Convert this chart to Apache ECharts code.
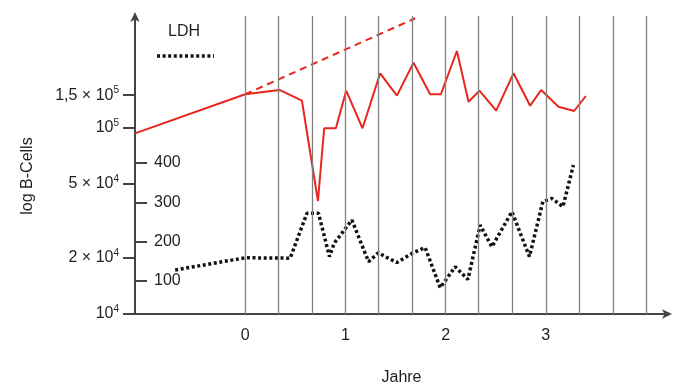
<!DOCTYPE html>
<html>
<head>
<meta charset="utf-8">
<script src="https://cdn.jsdelivr.net/npm/echarts@6/dist/echarts.min.js"></script>
<style>
  html, body { margin: 0; padding: 0; background: #fff; }
  #chart { width: 680px; height: 383px; }
</style>
</head>
<body>
<div id="chart"></div>
<script>
// B-cell counts (log axis), years relative to start of therapy
const bYears = [-1.1, 0, 0.342, 0.566, 0.726, 0.788, 0.905, 1.008, 1.171, 1.347, 1.514, 1.68, 1.846, 1.953, 2.113, 2.229, 2.338, 2.505, 2.678, 2.844, 2.954, 3.127, 3.283, 3.4];
const bValues = [93600, 151800, 160100, 140300, 40500, 99600, 99600, 158700, 99600, 196800, 149200, 224400, 151800, 151800, 259400, 138500, 158700, 123900, 196800, 131800, 160100, 130200, 123400, 148600];

// dashed extrapolation
const trendYears = [0, 1.697];
const trendValues = [151800, 388900];

// LDH (second scale)
const ldhYears = [-0.699, 0, 0.449, 0.616, 0.732, 0.841, 0.888, 1.065, 1.231, 1.33, 1.397, 1.514, 1.664, 1.796, 1.946, 2.096, 2.223, 2.345, 2.462, 2.662, 2.837, 2.971, 3.061, 3.171, 3.276];
const ldhValues = [128, 159, 158, 272, 272, 162, 196, 255, 149, 172, 162, 147, 170, 185, 83, 136, 104, 242, 187, 276, 162, 302, 310, 289, 395];

const gridYears = [0, 1/3, 2/3, 1, 4/3, 5/3, 2, 7/3, 8/3, 3, 10/3, 11/3, 4];
const yearTicks = [0, 1, 2, 3];
const bTicks = [10000, 20000, 50000, 100000, 150000];
const bTickLabels = {
  10000: '{b|10}{s|4}',
  20000: '{b|2 × 10}{s|4}',
  50000: '{b|5 × 10}{s|4}',
  100000: '{b|10}{s|5}',
  150000: '{b|1,5 × 10}{s|5}'
};
const ldhTicks = [100, 200, 300, 400];

const font = 'Liberation Sans, Arial, sans-serif';
const red = '#e8261d';
const txt = '#1e1e1e';

const chart = echarts.init(document.getElementById('chart'));

chart.setOption({
  animation: false,
  backgroundColor: '#fff',
  textStyle: { fontFamily: font },
  grid: { left: 135, right: 12, top: 16, bottom: 69, outerBoundsMode: 'none' },
  xAxis: {
    type: 'value',
    min: -1.1,
    max: 4.22,
    name: 'Jahre',
    nameLocation: 'middle',
    nameGap: 56,
    nameTextStyle: { fontSize: 16, color: txt, fontFamily: font },
    axisLine: { onZero: false, lineStyle: { color: '#444', width: 2 }, symbol: ['none', 'arrow'], symbolSize: [7, 10], symbolOffset: [0, 4] },
    axisTick: { show: false },
    splitLine: { show: false },
    axisLabel: { customValues: yearTicks, fontSize: 16, color: txt, margin: 14 }
  },
  yAxis: [
    {
      type: 'log',
      min: 10000,
      max: 400000,
      name: 'log B-Cells',
      nameLocation: 'middle',
      nameRotate: 90,
      nameGap: 99,
      nameTextStyle: { fontSize: 16, color: txt, fontFamily: font, padding: [0, 22, 0, 0] },
      axisLine: { show: true, onZero: false, lineStyle: { color: '#444', width: 2 }, symbol: ['none', 'arrow'], symbolSize: [7, 10], symbolOffset: [0, 4] },
      axisTick: { show: true, customValues: bTicks, length: 12, lineStyle: { color: '#444', width: 2 } },
      splitLine: { show: false },
      axisLabel: {
        customValues: bTicks,
        margin: 16,
        formatter: v => bTickLabels[Math.round(v)] || '',
        rich: {
          b: { fontSize: 16, color: txt, fontFamily: font, lineHeight: 20 },
          s: { fontSize: 10, color: txt, fontFamily: font, verticalAlign: 'top', lineHeight: 20, padding: [0, 0, 6, 0] }
        }
      }
    },
    {
      type: 'value',
      min: 16,
      max: 774,
      position: 'left',
      axisLine: { show: false, onZero: false },
      axisTick: { show: true, inside: true, customValues: ldhTicks, length: 12, lineStyle: { color: '#444', width: 2 } },
      splitLine: { show: false },
      axisLabel: { inside: true, customValues: ldhTicks, margin: 19, fontSize: 16, color: txt }
    }
  ],
  graphic: [
    { type: 'text', left: 168, top: 24, style: { text: 'LDH', fontSize: 16, fill: txt, fontFamily: font } },
    { type: 'line', shape: { x1: 157, y1: 56, x2: 214, y2: 56 }, style: { stroke: '#111', lineWidth: 3.5, lineDash: [3, 2.6] } }
  ],
  series: [
    {
      type: 'line',
      data: [],
      z: 1,
      silent: true,
      markLine: {
        silent: true,
        symbol: 'none',
        label: { show: false },
        lineStyle: { color: '#808080', type: 'solid', width: 1.3 },
        data: gridYears.map(v => ({ xAxis: v }))
      }
    },
    {
      name: 'B-Cells',
      type: 'line',
      z: 3,
      data: bYears.map((x, i) => [x, bValues[i]]),
      showSymbol: false,
      lineStyle: { color: red, width: 2 }
    },
    {
      name: 'Trend',
      type: 'line',
      z: 3,
      data: trendYears.map((x, i) => [x, trendValues[i]]),
      showSymbol: false,
      lineStyle: { color: red, width: 2, type: [7, 5] }
    },
    {
      name: 'LDH',
      type: 'line',
      z: 3,
      yAxisIndex: 1,
      data: ldhYears.map((x, i) => [x, ldhValues[i]]),
      showSymbol: false,
      lineStyle: { color: '#111', width: 3.5, type: [3, 2.6], cap: 'butt' }
    }
  ]
});
</script>
</body>
</html>
